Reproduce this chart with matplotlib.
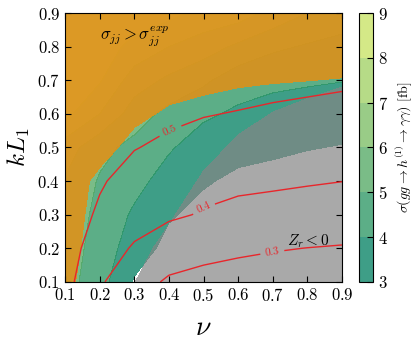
import numpy as np
import matplotlib
matplotlib.use("Agg")
import matplotlib.pyplot as plt
from matplotlib.colors import Normalize

plt.rcParams['font.family'] = 'serif'
plt.rcParams['font.serif'] = ['cmr10', 'DejaVu Serif']
plt.rcParams['mathtext.fontset'] = 'cm'
plt.rcParams['axes.formatter.use_mathtext'] = True

# grid
nu = [0.1, 0.2, 0.3, 0.4, 0.5, 0.6, 0.7, 0.8, 0.9]
kl1 = [0.1, 0.2, 0.3, 0.4, 0.5, 0.6, 0.7, 0.8, 0.9]

# sigma(gg -> h1 -> gamma gamma) [fb], rows = kL1, cols = nu
sigma = [
    [5.40, 4.40, 2.90, 1.60, 1.00, 0.60, 0.30, 0.10, 0.00],
    [5.55, 4.55, 3.50, 2.70, 1.80, 1.30, 1.00, 0.80, 0.60],
    [5.70, 4.70, 3.85, 3.10, 2.70, 2.10, 1.80, 1.60, 1.40],
    [5.90, 4.90, 4.30, 3.60, 3.10, 2.80, 2.65, 2.50, 2.30],
    [6.50, 5.30, 4.70, 4.10, 3.55, 3.30, 3.20, 3.05, 2.95],
    [8.30, 7.00, 5.50, 4.70, 4.15, 3.85, 3.75, 3.60, 3.45],
    [8.70, 8.10, 6.50, 5.80, 5.20, 4.40, 4.15, 4.10, 4.03],
    [8.80, 8.50, 7.70, 7.00, 6.50, 5.80, 5.20, 4.90, 4.70],
    [8.80, 8.80, 8.60, 8.30, 7.70, 7.50, 6.70, 6.00, 5.50],
]

# sigma_jj / sigma_jj^exp
ratio_jj = [
    [1.30, 0.30, 0.25, 0.20, 0.18, 0.16, 0.14, 0.12, 0.10],
    [1.35, 0.57, 0.35, 0.28, 0.24, 0.22, 0.20, 0.18, 0.16],
    [1.40, 0.70, 0.45, 0.36, 0.32, 0.30, 0.28, 0.26, 0.24],
    [1.45, 0.81, 0.58, 0.48, 0.42, 0.40, 0.38, 0.36, 0.34],
    [1.60, 1.28, 0.75, 0.65, 0.58, 0.55, 0.52, 0.50, 0.48],
    [1.80, 1.60, 1.17, 0.89, 0.80, 0.75, 0.72, 0.70, 0.68],
    [2.00, 1.85, 1.55, 1.30, 1.16, 1.07, 1.03, 1.006, 0.98],
    [2.20, 2.10, 1.90, 1.70, 1.50, 1.40, 1.32, 1.28, 1.25],
    [2.40, 2.30, 2.20, 2.00, 1.85, 1.70, 1.60, 1.55, 1.50],
]

# Z_r
z_r = [
    [6.0, 3.0, 0.05, -1.7, -3.3, -4.37, -5.05, -5.45, -5.8],
    [7.0, 4.0, 0.82, -0.7, -2.3, -3.37, -4.05, -4.45, -4.8],
    [8.0, 5.0, 1.82, 0.3, -1.3, -2.37, -3.05, -3.45, -3.8],
    [9.0, 6.0, 2.82, 1.3, -0.3, -1.37, -2.05, -2.45, -2.8],
    [10.0, 7.0, 3.82, 2.3, 0.7, -0.37, -1.05, -1.45, -1.8],
    [11.0, 8.0, 4.82, 3.3, 1.7, 0.63, -0.05, -0.45, -0.8],
    [12.0, 9.0, 5.82, 4.3, 2.7, 1.63, 0.95, 0.55, 0.2],
    [13.0, 10.0, 6.82, 5.3, 3.7, 2.63, 1.95, 1.55, 1.2],
    [14.0, 11.0, 7.82, 6.3, 4.7, 3.63, 2.95, 2.55, 2.2],
]

# red contour quantity
red = [
    [0.530, 0.415, 0.315, 0.295, 0.280, 0.270, 0.260, 0.250, 0.240],
    [0.543, 0.450, 0.390, 0.320, 0.320, 0.312, 0.305, 0.299, 0.295],
    [0.545, 0.488, 0.440, 0.420, 0.390, 0.375, 0.365, 0.355, 0.345],
    [0.560, 0.508, 0.470, 0.450, 0.440, 0.420, 0.415, 0.408, 0.401],
    [0.580, 0.530, 0.503, 0.485, 0.475, 0.465, 0.455, 0.450, 0.440],
    [0.600, 0.550, 0.525, 0.515, 0.503, 0.497, 0.490, 0.485, 0.480],
    [0.620, 0.570, 0.545, 0.535, 0.530, 0.525, 0.520, 0.515, 0.510],
    [0.640, 0.590, 0.565, 0.555, 0.550, 0.545, 0.540, 0.535, 0.530],
    [0.660, 0.610, 0.585, 0.575, 0.570, 0.565, 0.560, 0.555, 0.550],
]

sigma_levels = [3, 4, 5, 6, 7, 8, 9]
red_levels = [0.3, 0.4, 0.5]

X, Y = np.meshgrid(nu, kl1)
S = np.array(sigma)
R = np.array(ratio_jj)
Z = np.array(z_r)
L = np.array(red)

fig = plt.figure(figsize=(4.15, 3.43), dpi=100)
ax = fig.add_axes([0.157, 0.178, 0.667, 0.784])
cax = fig.add_axes([0.865, 0.178, 0.034, 0.784])

cf = ax.contourf(X, Y, S, levels=sigma_levels, cmap='summer',
                 norm=Normalize(3.3, 9.9), alpha=0.78)
ax.contourf(X, Y, Z, levels=[Z.min() - 1, 0], colors='#858585', alpha=0.7)
ax.contourf(X, Y, R, levels=[1, R.max() + 1], colors='#dd911a', alpha=0.9)
cs = ax.contour(X, Y, L, levels=red_levels, colors='#e8262b', linewidths=1.0)
ax.clabel(cs, fmt='%.1f', fontsize=8, inline=True,
          manual=[(0.70, 0.18), (0.50, 0.32), (0.40, 0.56)])

ax.text(0.2, 0.83, r'$\sigma_{jj} > \sigma_{jj}^{exp}$', fontsize=12, va='center')
ax.text(0.74, 0.22, r'$Z_r < 0$', fontsize=11, va='center')

ax.set_xlim(0.1, 0.9)
ax.set_ylim(0.1, 0.9)
ax.set_xticks(nu)
ax.set_yticks(kl1)
ax.tick_params(labelsize=12, direction='in', top=True, right=True, length=4)
ax.set_xlabel(r'$\nu$', fontsize=20, labelpad=8)
ax.set_ylabel(r'$kL_1$', fontsize=18)

cb = fig.colorbar(cf, cax=cax)
cb.set_ticks(sigma_levels)
cb.ax.tick_params(labelsize=12, direction='in', length=4)
cb.set_label(r'$\sigma(gg \to h^{(1)} \to \gamma\gamma)$ [fb]', fontsize=10)

fig.savefig('out.png', dpi=100)
